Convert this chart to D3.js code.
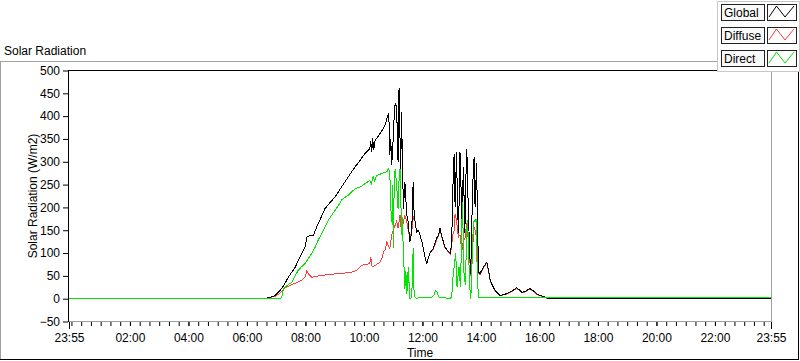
<!DOCTYPE html>
<html>
<head>
<meta charset="utf-8">
<script src="https://cdn.jsdelivr.net/npm/d3@7"></script>
<style>
	body { margin: 0; background: #fff; }
	text { font-family: "Liberation Sans", Arial, sans-serif; font-size: 12px; fill: #000; }
</style>
</head>
<body>
<script>
// minutes after midnight (-5 = 23:55 the day before, 1435 = 23:55)
const globalTimes = [-5, 393, 405, 418, 428, 436, 445, 459, 472, 479, 483, 489, 496, 503, 512, 520, 530, 541, 551, 561, 571, 582, 592, 602, 608, 612, 614, 616, 618, 620, 623, 626, 633, 640, 644, 647, 651, 653, 655, 657, 660, 662, 664, 667, 670, 672, 674, 675, 677, 679, 681, 684, 686, 688, 691, 694, 698, 701, 703, 708, 712, 715, 719, 722, 726, 729, 735, 742, 749, 753, 756, 760, 766, 772, 777, 780, 782, 785, 787, 790, 792, 794, 797, 799, 801, 804, 807, 809, 811, 813, 815, 817, 819, 821, 823, 826, 828, 831, 833, 835, 838, 845, 852, 856, 859, 864, 869, 879, 886, 893, 900, 906, 913, 918, 924, 929, 934, 940, 944, 950, 954, 960, 968, 978, 1435];
const globalValues = [0, 0, 2, 7, 18, 30, 47, 69, 99, 112, 135, 138, 138, 157, 178, 197, 210, 223, 240, 256, 272, 289, 303, 318, 324, 329, 345, 322, 351, 325, 348, 351, 362, 373, 382, 395, 406, 314, 350, 292, 351, 398, 428, 420, 300, 462, 352, 234, 410, 300, 197, 256, 216, 183, 168, 124, 146, 256, 183, 146, 150, 139, 125, 110, 88, 77, 100, 110, 132, 140, 154, 136, 113, 105, 100, 121, 230, 318, 201, 322, 200, 143, 322, 250, 172, 289, 143, 260, 329, 240, 165, 100, 55, 150, 245, 311, 200, 297, 172, 58, 55, 69, 80, 60, 40, 28, 18, 7, 9, 11, 15, 18, 24, 20, 14, 15, 18, 22, 20, 15, 11, 8, 5, 0, 0];

const diffuseTimes = [-5, 393, 405, 418, 428, 438, 452, 462, 472, 480, 483, 488, 493, 513, 530, 547, 560, 575, 585, 595, 605, 612, 614, 616, 619, 626, 633, 637, 640, 644, 647, 650, 653, 657, 660, 664, 667, 670, 674, 677, 681, 684, 688, 691, 694, 698, 701, 703, 706, 708, 712, 715, 719, 722, 726, 729, 735, 742, 749, 753, 756, 760, 766, 772, 777, 780, 782, 785, 787, 790, 792, 794, 797, 799, 801, 804, 807, 809, 811, 813, 815, 817, 819, 821, 823, 826, 828, 831, 833, 835, 838, 845, 852, 856, 859, 864, 869, 879, 886, 893, 900, 906, 913, 918, 924, 929, 934, 940, 944, 950, 954, 960, 968, 978, 1435];
const diffuseValues = [0, 0, 2, 5, 12, 24, 31, 35, 40, 48, 61, 52, 47, 51, 53, 55, 56, 58, 62, 73, 75, 77, 91, 72, 70, 75, 80, 88, 102, 108, 124, 115, 110, 139, 150, 161, 170, 154, 183, 146, 168, 183, 168, 150, 132, 146, 175, 183, 160, 146, 150, 139, 125, 110, 88, 77, 100, 108, 128, 138, 150, 134, 112, 104, 98, 115, 140, 150, 186, 170, 150, 135, 140, 120, 106, 128, 130, 150, 165, 140, 120, 90, 50, 90, 113, 157, 150, 135, 100, 55, 53, 67, 78, 58, 38, 27, 17, 6, 8, 10, 14, 17, 23, 19, 13, 14, 17, 21, 19, 14, 10, 7, 4, 0, 0];

const directTimes = [-5, 428, 431, 435, 444, 452, 458, 465, 472, 479, 486, 493, 500, 506, 512, 517, 527, 534, 541, 548, 554, 561, 568, 575, 582, 589, 595, 602, 612, 615, 619, 622, 626, 631, 636, 641, 647, 650, 653, 655, 657, 659, 660, 662, 664, 667, 670, 672, 674, 676, 677, 679, 681, 683, 684, 686, 688, 691, 694, 698, 701, 703, 708, 715, 729, 738, 744, 747, 750, 754, 760, 777, 780, 782, 785, 788, 790, 791, 793, 795, 797, 798, 800, 802, 804, 805, 807, 808, 810, 811, 813, 814, 816, 818, 819, 821, 822, 824, 826, 828, 830, 831, 833, 835, 860, 1000, 1435];
const directValues = [0, 0, 2, 22, 30, 36, 48, 62, 70, 77, 88, 99, 113, 128, 140, 150, 172, 183, 194, 205, 216, 222, 227, 234, 241, 244, 246, 252, 259, 252, 267, 258, 270, 272, 274, 276, 278, 285, 280, 200, 168, 250, 110, 240, 285, 252, 197, 260, 285, 200, 139, 180, 88, 58, 22, 60, 11, 69, 0, 2, 110, 5, 0, 3, 3, 2, 8, 18, 14, 3, 2, 1, 3, 40, 69, 99, 60, 25, 50, 69, 40, 25, 120, 212, 120, 60, 40, 30, 110, 150, 172, 120, 60, 10, 0, 40, 90, 150, 172, 168, 175, 120, 40, 2, 2, 2, 2];

const yTicks = [-50, 0, 50, 100, 150, 200, 250, 300, 350, 400, 450, 500];
const xTickHours = [2, 4, 6, 8, 10, 12, 14, 16, 18, 20, 22];
const legendNames = ["Global", "Diffuse", "Direct"];
const legendColors = ["#000000", "#ff3b3b", "#00e600"];

const day = new Date(2020, 0, 2).getTime();
const toDate = (m) => new Date(day + m * 60000);

const svg = d3.select("body").append("svg")
	.attr("width", 800)
	.attr("height", 361);

// cadre extérieur
svg.append("line").attr("x1", 0).attr("y1", 61.5).attr("x2", 718).attr("y2", 61.5).attr("stroke", "#a0a0a0");
svg.append("line").attr("x1", 0.5).attr("y1", 61).attr("x2", 0.5).attr("y2", 360).attr("stroke", "#a0a0a0");
svg.append("line").attr("x1", 0).attr("y1", 359.5).attr("x2", 799).attr("y2", 359.5).attr("stroke", "#000");
svg.append("line").attr("x1", 798.5).attr("y1", 61).attr("x2", 798.5).attr("y2", 360).attr("stroke", "#000");

svg.append("text")
	.attr("x", 4)
	.attr("y", 55)
	.text("Solar Radiation");

const x = d3.scaleTime()
	.domain([toDate(-5), toDate(1435)])
	.range([69, 771]);

const y = d3.scaleLinear()
	.domain([-50, 500])
	.range([321.5, 70.5]);

// zone du graphe
svg.append("rect")
	.attr("x", 68.5).attr("y", 70.5)
	.attr("width", 703).attr("height", 251)
	.attr("fill", "#fff")
	.attr("stroke", "none");
svg.append("line").attr("x1", 771.5).attr("y1", 70).attr("x2", 771.5).attr("y2", 322).attr("stroke", "#a0a0a0");
svg.append("line").attr("x1", 68).attr("y1", 321.5).attr("x2", 772).attr("y2", 321.5).attr("stroke", "#a0a0a0");
svg.append("line").attr("x1", 68.5).attr("y1", 70).attr("x2", 68.5).attr("y2", 322).attr("stroke", "#000");
svg.append("line").attr("x1", 68).attr("y1", 70.5).attr("x2", 772).attr("y2", 70.5).attr("stroke", "#000");

svg.append("clipPath").attr("id", "clip")
	.append("rect")
	.attr("x", 69).attr("y", 71)
	.attr("width", 702).attr("height", 250);

// axe Y
const yAxis = svg.append("g")
	.attr("transform", "translate(68,0)")
	.call(d3.axisLeft(y).tickValues(yTicks).tickSize(5).tickPadding(3));
yAxis.select(".domain").remove();
yAxis.selectAll("text").style("font-size", "12px").style("font-family", "'Liberation Sans', Arial, sans-serif");

// axe X : petites graduations toutes les 20 min
const minorTicks = d3.timeMinute.every(20).range(toDate(0), toDate(1435));
const xMinor = svg.append("g")
	.attr("transform", "translate(0,322)")
	.call(d3.axisBottom(x).tickValues(minorTicks).tickSize(4).tickFormat(""));
xMinor.select(".domain").remove();

const majorTicks = [toDate(-5)].concat(xTickHours.map((h) => toDate(h * 60)), [toDate(1435)]);
const xAxis = svg.append("g")
	.attr("transform", "translate(0,322)")
	.call(d3.axisBottom(x)
		.tickValues(majorTicks)
		.tickSize(4)
		.tickPadding(7)
		.tickFormat(d3.timeFormat("%H:%M")));
xAxis.select(".domain").remove();
xAxis.selectAll("text").style("font-size", "12px").style("font-family", "'Liberation Sans', Arial, sans-serif");
xAxis.selectAll("line").filter((d, i) => i == 0 || i == majorTicks.length - 1).attr("y2", 7);

svg.append("text")
	.attr("x", 420)
	.attr("y", 357)
	.attr("text-anchor", "middle")
	.text("Time");

svg.append("text")
	.attr("transform", "translate(37,196) rotate(-90)")
	.attr("text-anchor", "middle")
	.text("Solar Radiation (W/m2)");

// courbes
const line = d3.line()
	.x((d) => x(toDate(d[0])))
	.y((d) => y(d[1]));

const series = [
	{ color: legendColors[1], data: d3.zip(diffuseTimes, diffuseValues) },
	{ color: legendColors[0], data: d3.zip(globalTimes, globalValues) },
	{ color: legendColors[2], data: d3.zip(directTimes, directValues) },
];

svg.append("g")
	.attr("clip-path", "url(#clip)")
	.selectAll("path")
	.data(series)
	.join("path")
	.attr("d", (s) => line(s.data))
	.attr("fill", "none")
	.attr("stroke", (s) => s.color)
	.attr("stroke-width", 1)
	.attr("shape-rendering", "crispEdges");

// légende
svg.append("rect")
	.attr("x", 717.5).attr("y", 1.5)
	.attr("width", 82).attr("height", 70)
	.attr("fill", "#fff")
	.attr("stroke", "#c8c8c8");

const legend = svg.append("g")
	.selectAll("g")
	.data(legendNames)
	.join("g")
	.attr("transform", (d, i) => `translate(0,${4 + i * 23})`);

legend.append("rect")
	.attr("x", 721.5).attr("y", 0.5)
	.attr("width", 43).attr("height", 16)
	.attr("fill", "#fafafa")
	.attr("stroke", "#222");

legend.append("text")
	.attr("x", 724)
	.attr("y", 13)
	.text((d) => d);

legend.append("rect")
	.attr("x", 767.5).attr("y", 0.5)
	.attr("width", 29).attr("height", 16)
	.attr("fill", "#fff")
	.attr("stroke", "#222");

legend.append("polyline")
	.attr("points", "769,13 776.5,2 785,13 794,2")
	.attr("fill", "none")
	.attr("stroke", (d, i) => legendColors[i]);
</script>
</body>
</html>
